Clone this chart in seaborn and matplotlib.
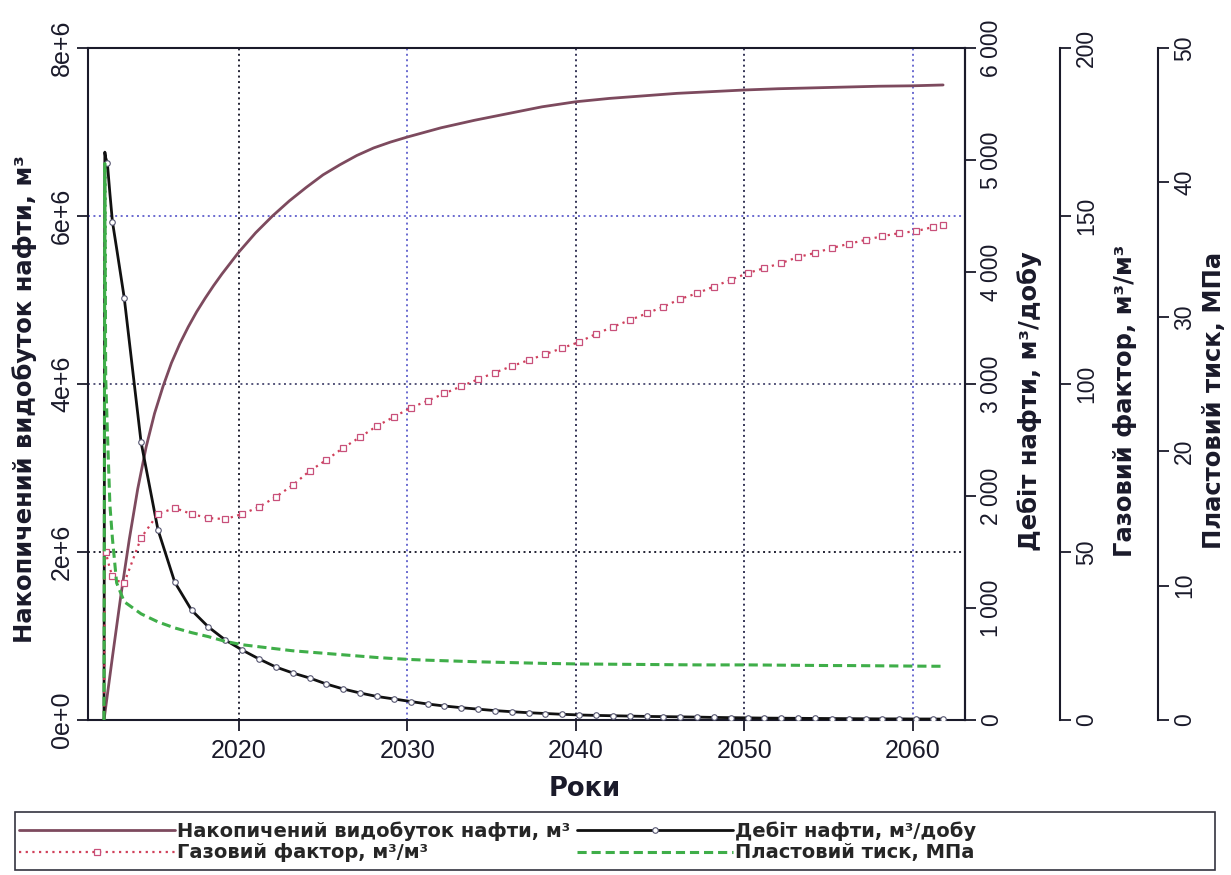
import matplotlib
matplotlib.use("Agg")
import matplotlib.pyplot as plt
import seaborn as sns
import numpy as np
from matplotlib import font_manager
from matplotlib.patches import Rectangle
from matplotlib.lines import Line2D

# ---------------- data ----------------
years = [2012.0, 2012.05, 2012.1, 2012.2, 2012.35, 2012.5, 2012.75, 2013.2,
         2014.2, 2015.2, 2016.2, 2017.2, 2018.2, 2019.2, 2020.2, 2021.2,
         2022.2, 2023.2, 2024.2, 2025.2, 2026.2, 2027.2, 2028.2, 2029.2,
         2030.2, 2031.2, 2032.2, 2033.2, 2034.2, 2035.2, 2036.2, 2037.2,
         2038.2, 2039.2, 2040.2, 2041.2, 2042.2, 2043.2, 2044.2, 2045.2,
         2046.2, 2047.2, 2048.2, 2049.2, 2050.2, 2051.2, 2052.2, 2053.2,
         2054.2, 2055.2, 2056.2, 2057.2, 2058.2, 2059.2, 2060.2, 2061.2,
         2061.8]

# cumulative oil production (own time grid), million m3
cum_years = [2012.0, 2012.5, 2013.0, 2013.5, 2014.0, 2014.5, 2015.0, 2015.5,
             2016.0, 2016.5, 2017.0, 2017.5, 2018.0, 2018.5, 2019.0, 2019.5,
             2020.0, 2021.0, 2022.0, 2023.0, 2024.0, 2025.0, 2026.0, 2027.0,
             2028.0, 2029.0, 2030.0, 2032.0, 2034.0, 2036.0, 2038.0, 2040.0,
             2042.0, 2044.0, 2046.0, 2048.0, 2050.0, 2052.0, 2054.0, 2056.0,
             2058.0, 2060.0, 2061.8]
cum_mln = [0.0, 0.75, 1.48, 2.15, 2.75, 3.25, 3.65, 3.97,
           4.25, 4.48, 4.68, 4.86, 5.02, 5.17, 5.31, 5.44,
           5.57, 5.80, 6.00, 6.18, 6.34, 6.49, 6.61, 6.72,
           6.81, 6.88, 6.94, 7.05, 7.14, 7.22, 7.30, 7.36,
           7.40, 7.43, 7.46, 7.48, 7.50, 7.515, 7.525, 7.535,
           7.545, 7.55, 7.56]

# oil rate, m3/day
rate = [0, 5070, 5020, 4970, 4700, 4450, 4210, 3770,
        2480, 1700, 1230, 980, 830, 714, 625, 545,
        473, 420, 375, 321, 277, 241, 210, 188,
        165, 143, 125, 110, 97, 84, 74, 65,
        58, 51, 45, 41, 38, 35, 32, 30,
        28, 26, 23, 21, 19, 17, 16, 15,
        14, 13, 12, 11, 10, 10, 9, 9,
        8]

# gas factor, m3/m3
gas = [0, 48, 50, 48, 45, 43, 41.5, 40.8,
       54.2, 61.3, 63.1, 61.3, 60.1, 59.8, 61.3, 63.4,
       66.4, 69.9, 74.1, 77.4, 81.0, 84.2, 87.5, 90.2,
       92.9, 95.0, 97.2, 99.3, 101.4, 103.4, 105.3, 107.1,
       108.9, 110.7, 112.5, 114.9, 117.0, 119.0, 121.0, 123.0,
       125.3, 127.0, 129.0, 131.0, 133.0, 134.5, 136.0, 137.8,
       139.0, 140.5, 141.7, 142.9, 144.0, 144.9, 145.5, 146.7,
       147.3]

# reservoir pressure, MPa
pres = [0, 41.4, 25.5, 21.5, 16.0, 13.5, 10.2, 8.8,
        7.9, 7.3, 6.85, 6.5, 6.2, 5.85, 5.6, 5.45,
        5.3, 5.15, 5.05, 4.95, 4.85, 4.75, 4.65, 4.57,
        4.5, 4.45, 4.41, 4.37, 4.33, 4.3, 4.27, 4.24,
        4.21, 4.19, 4.17, 4.16, 4.15, 4.14, 4.13, 4.12,
        4.11, 4.1, 4.1, 4.1, 4.1, 4.09, 4.08, 4.07,
        4.06, 4.05, 4.05, 4.04, 4.03, 4.02, 4.01, 4.0,
        4.0]

x_ticks = [2020, 2030, 2040, 2050, 2060]
cum_ticks = [0, 2e6, 4e6, 6e6, 8e6]
cum_tick_labels = ["0e+0", "2e+6", "4e+6", "6e+6", "8e+6"]
rate_ticks = [0, 1000, 2000, 3000, 4000, 5000, 6000]
rate_tick_labels = ["0", "1 000", "2 000", "3 000", "4 000", "5 000", "6 000"]
gas_ticks = [0, 50, 100, 150, 200]
pres_ticks = [0, 10, 20, 30, 40, 50]

lbl_cum = "Накопичений видобуток нафти, м³"
lbl_rate = "Дебіт нафти, м³/добу"
lbl_gas = "Газовий фактор, м³/м³"
lbl_pres = "Пластовий тиск, МПа"
lbl_x = "Роки"

# ---------------- style ----------------
sns.set_theme(style="white")
avail = {f.name for f in font_manager.fontManager.ttflist}
base = "Liberation Sans" if "Liberation Sans" in avail else "DejaVu Sans"
plt.rcParams["font.family"] = [base, "DejaVu Sans"]
LABEL_FAMILY = ["DejaVu Sans"]

C_CUM = "#7d4a5e"
C_RATE = "#111111"
C_GAS = "#d0405a"
C_GAS_M = "#c8507a"
C_PRES = "#3fae49"
C_AX = "#1a1a2a"

W, H = 1231, 875
fig = plt.figure(figsize=(W / 100, H / 100), dpi=100)
fig.patch.set_facecolor("white")
L, R, T, B = 88, 965, 48, 720
ax = fig.add_axes([L / W, 1 - B / H, (R - L) / W, (B - T) / H])
ax_rate = ax.twinx()
ax_gas = ax.twinx()
ax_pres = ax.twinx()

cum = np.array(cum_mln) * 1e6

sns.lineplot(x=cum_years, y=cum, ax=ax, color=C_CUM, linewidth=2.0,
             legend=False, sort=False)
sns.lineplot(x=years, y=pres, ax=ax_pres, color=C_PRES, linewidth=2.2,
             linestyle=(0, (3, 1.6)), legend=False, sort=False)
sns.lineplot(x=years, y=gas, ax=ax_gas, color=C_GAS, linewidth=1.6,
             linestyle=(0, (1, 2)), marker="s", markersize=4.5,
             markerfacecolor="white", markeredgecolor=C_GAS_M,
             markeredgewidth=0.9, markevery=[2, 5, 7] + list(range(8, len(years))),
             legend=False, sort=False)
sns.lineplot(x=years, y=rate, ax=ax_rate, color=C_RATE, linewidth=2.0,
             marker="o", markersize=4, markerfacecolor="white",
             markeredgecolor="#555570", markeredgewidth=0.8,
             markevery=[3, 5, 7] + list(range(8, len(years))),
             legend=False, sort=False)

# ---------------- axes ----------------
ax.set_xlim(2011.05, 2063.1)
ax.set_ylim(0, 8e6)
ax_rate.set_ylim(0, 6000)
ax_gas.set_ylim(0, 200)
ax_pres.set_ylim(0, 50)

ax.set_xticks(x_ticks)
ax.set_xticklabels([str(v) for v in x_ticks])
ax.set_yticks(cum_ticks)
ax.set_yticklabels(cum_tick_labels, rotation=90, va="center")
ax.tick_params(axis="x", direction="out", length=8, width=1.3, labelsize=18,
               pad=6, colors=C_AX, bottom=True)
ax.tick_params(axis="y", direction="out", length=8, width=1.3, labelsize=18,
               pad=2, colors=C_AX, left=True)
for s in ax.spines.values():
    s.set_visible(True)
    s.set_color(C_AX)
    s.set_linewidth(1.5)

ax.grid(True, linestyle=(0, (1, 1.8)), linewidth=1.4)
xg_cols = ["#222233", "#6a6ad0", "#333355", "#333355", "#6a6ad0"]
for gl, c in zip(ax.xaxis.get_gridlines(), xg_cols):
    gl.set_color(c)
yg_cols = ["#222233", "#222233", "#55557a", "#6a6ad0", "#222233"]
for gl, c in zip(ax.yaxis.get_gridlines(), yg_cols):
    gl.set_color(c)
ax.set_axisbelow(True)

offsets = {ax_rate: 1.0, ax_gas: (1060 - L) / (R - L), ax_pres: (1158 - L) / (R - L)}
tick_sets = {ax_rate: (rate_ticks, rate_tick_labels),
             ax_gas: (gas_ticks, [str(v) for v in gas_ticks]),
             ax_pres: (pres_ticks, [str(v) for v in pres_ticks])}
label_x = {ax_rate: (1030 - L) / (R - L), ax_gas: (1125 - L) / (R - L),
           ax_pres: (1214 - L) / (R - L)}
labels = {ax_rate: lbl_rate, ax_gas: lbl_gas, ax_pres: lbl_pres}
for a, off in offsets.items():
    a.grid(False)
    for k, s in a.spines.items():
        s.set_visible(k == "right")
    a.spines["right"].set_position(("axes", off))
    a.spines["right"].set_color(C_AX)
    a.spines["right"].set_linewidth(1.5)
    tk, tl = tick_sets[a]
    a.set_yticks(tk)
    a.set_yticklabels(tl, rotation=90, va="center")
    a.tick_params(axis="y", direction="out", length=8, width=1.3,
                  labelsize=16.5, pad=3, colors=C_AX, right=True)
    a.set_ylabel(labels[a], fontsize=17.5, fontweight="bold", color=C_AX,
                 fontfamily=LABEL_FAMILY)
    a.yaxis.label.set_va("center")
    a.yaxis.set_label_coords(label_x[a], 0.475)

ax.set_ylabel(lbl_cum, fontsize=17.5, fontweight="bold", color=C_AX,
              fontfamily=LABEL_FAMILY)
ax.yaxis.label.set_va("center")
ax.yaxis.set_label_coords((25 - L) / (R - L), 0.478)
ax.set_xlabel(lbl_x, fontsize=18.5, fontweight="bold", color=C_AX,
              fontfamily=LABEL_FAMILY)
ax.xaxis.label.set_va("center")
ax.xaxis.set_label_coords((585 - L) / (R - L), (B - 789) / (B - T))

# ---------------- legend ----------------
h_cum = Line2D([], [], color=C_CUM, lw=2.0)
h_rate = Line2D([], [], color=C_RATE, lw=2.0, marker="o", markersize=4,
                markerfacecolor="white", markeredgecolor="#555570", markeredgewidth=0.8)
h_gas = Line2D([], [], color=C_GAS, lw=1.6, linestyle=(0, (1, 2)), marker="s",
               markersize=4.5, markerfacecolor="white", markeredgecolor=C_GAS_M,
               markeredgewidth=0.9)
h_pres = Line2D([], [], color=C_PRES, lw=2.2, linestyle=(0, (3, 1.6)))

legprops = {"size": 14, "weight": "bold", "family": LABEL_FAMILY}
common = dict(loc="upper left", frameon=False, prop=legprops, handlelength=8.0,
              handletextpad=0.15, labelspacing=0.15, borderpad=0,
              borderaxespad=0, numpoints=1)
fig.legend([h_cum, h_gas], [lbl_cum, lbl_gas],
           bbox_to_anchor=(19 / W, 1 - 821 / H), **common)
fig.legend([h_rate, h_pres], [lbl_rate, lbl_pres],
           bbox_to_anchor=(577 / W, 1 - 821 / H), **common)
fig.add_artist(Rectangle((15 / W, 1 - 870 / H), 1200 / W, 58 / H,
                         transform=fig.transFigure, fill=False,
                         edgecolor="#333340", linewidth=1.2))

fig.savefig("out.png", dpi=100, facecolor="white")
